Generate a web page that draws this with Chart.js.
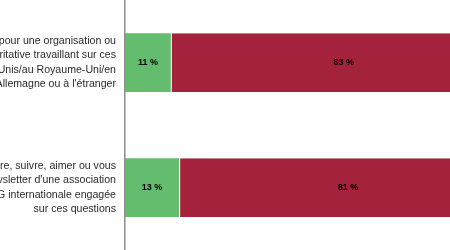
<!DOCTYPE html>
<html>
<head>
<meta charset="utf-8">
<script src="https://cdn.jsdelivr.net/npm/chart.js@4"></script>
<style>
  html, body { margin: 0; padding: 0; background: #fff; }
  #wrap { width: 450px; height: 250px; }
</style>
</head>
<body>
<div id="wrap"><canvas id="chartBarras"></canvas></div>
<script>
// categorias (texto recortado como en la imagen)
const categorias = [
    ["pour une organisation ou", "ritative travaillant sur ces", "Unis/au Royaume-Uni/en", "Allemagne ou à l'étranger"],
    ["ire, suivre, aimer ou vous", "vsletter d'une association", "G internationale engagée", "sur ces questions"]
];
const valoresSi = [11, 13];
const valoresNo = [83, 81];

// ============================
// ETIQUETAS DE VALOR
// ============================
const etiquetasValor = {
    id: "etiquetasValor",
    afterDatasetsDraw(chart) {
        const ctx = chart.ctx;
        ctx.save();
        ctx.font = "bold 9px 'Liberation Sans', Arial, sans-serif";
        ctx.fillStyle = "#000";
        ctx.textAlign = "center";
        ctx.textBaseline = "middle";
        chart.data.datasets.forEach(function (ds, i) {
            chart.getDatasetMeta(i).data.forEach(function (bar, j) {
                const x = (bar.x + bar.base) / 2;
                ctx.fillText(ds.data[j] + " %", x, bar.y);
            });
        });
        ctx.restore();
    }
};

new Chart(document.getElementById("chartBarras"), {
    type: "bar",
    data: {
        labels: categorias,
        datasets: [{
            data: valoresSi,
            backgroundColor: "#64bc6e",
            borderWidth: 0
        }, {
            data: valoresNo,
            backgroundColor: "#a4223b",
            borderColor: "#ffffff",
            borderWidth: { left: 1, right: 0, top: 0, bottom: 0 },
            borderSkipped: false
        }]
    },
    options: {
        indexAxis: "y",
        responsive: true,
        maintainAspectRatio: false,
        animation: false,
        layout: { padding: 0 },
        categoryPercentage: 1,
        barPercentage: 0.47,
        plugins: {
            legend: { display: false },
            tooltip: { enabled: false }
        },
        scales: {
            x: {
                stacked: true,
                display: false,
                min: 0,
                max: 78
            },
            y: {
                stacked: true,
                grid: { display: false, drawTicks: false },
                border: { display: true, color: "#8c8c8c", width: 1.5 },
                ticks: {
                    padding: 9,
                    color: "#2a2a2a",
                    font: { family: "'Liberation Sans', Arial, sans-serif", size: 10.6, lineHeight: 1.35 }
                },
                afterFit: function (scale) {
                    scale.width = 125;
                    scale.paddingTop = 0;
                    scale.paddingBottom = 0;
                }
            }
        }
    },
    plugins: [etiquetasValor]
});
</script>
</body>
</html>
